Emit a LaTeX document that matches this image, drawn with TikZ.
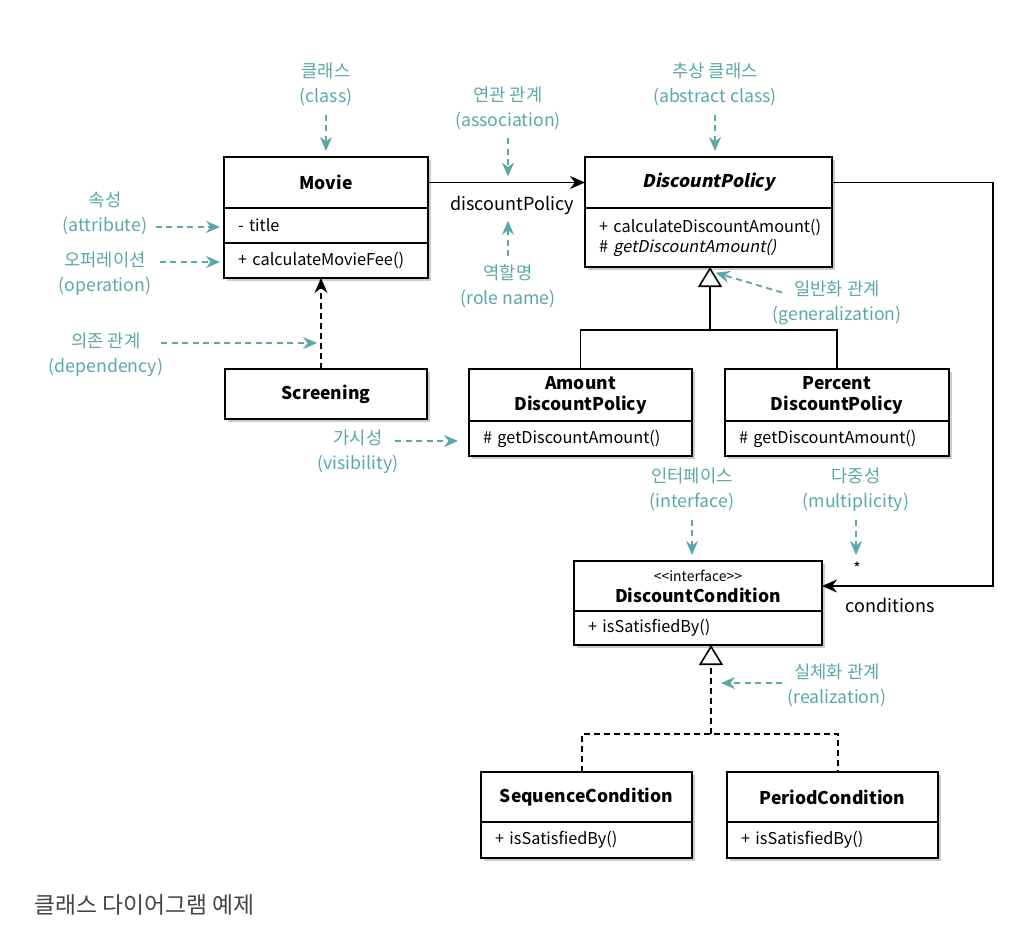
\documentclass[tikz,border=0pt]{standalone}
\usepackage{fontspec}
\setmainfont{Noto Sans CJK KR}[AutoFakeSlant=0.2]
\newfontfamily\slantfont{Noto Sans CJK KR}[FakeSlant=0.2]
\usetikzlibrary{arrows.meta,shadows}
\definecolor{noteteal}{RGB}{91,168,170}
\definecolor{capgray}{RGB}{68,68,68}

\tikzset{
  umlbox/.style={draw=black, line width=1.3pt, fill=white, outer sep=0pt,
    inner xsep=14pt, inner ysep=2pt, text width=#1,
    execute at begin node={\hyphenpenalty=10000\relax},
    drop shadow={shadow xshift=2.5pt, shadow yshift=-2.5pt, opacity=0.4}},
  headbox/.style={umlbox=#1, align=center, font=\fontsize{17.5}{21}\selectfont\bfseries},
  rowbox/.style={umlbox=#1, align=left, font=\fontsize{16.3}{20}\selectfont},
  rolename/.style={font=\fontsize{18}{22}\selectfont},
  note/.style={text=noteteal, align=center, font=\fontsize{17.7}{25}\selectfont},
  notearrow/.style={noteteal, line width=1.8pt, dash pattern=on 6pt off 4.5pt,
    -{Stealth[length=14pt,width=12pt]}, shorten <=5pt, shorten >=6pt},
  link/.style={line width=1.6pt},
  dashlink/.style={link, dash pattern=on 6pt off 4pt},
  assoc/.style={link, -{Stealth[length=15pt,width=13pt]}},
  depend/.style={dashlink, -{Stealth[length=15pt,width=13pt]}},
  inherit/.style={link, -{Triangle[open,length=20pt,width=24pt]}},
  realize/.style={dashlink, -{Triangle[open,length=20pt,width=24pt]}},
}

\begin{document}
\begin{tikzpicture}[x=1pt, y=-1pt]
  \path[use as bounding box, fill=white] (0,0) rectangle (1032,931);

  % classes
  \node[headbox=176pt, minimum height=51pt] (movie) at (326,182.5) {Movie};
  \node[rowbox=176pt, minimum height=35pt, anchor=north] (movieattr) at (movie.south) {-~title};
  \node[rowbox=176pt, minimum height=35pt, anchor=north] (movieop) at (movieattr.south) {+~calculateMovieFee()};

  \node[headbox=174pt, minimum height=50pt] (screening) at (326,394) {Screening};

  \node[headbox=219pt, minimum height=51pt] (policy) at (708.5,182.5) {\slantfont\bfseries DiscountPolicy};
  \node[rowbox=219pt, minimum height=59pt, anchor=north] (policyops) at (policy.south)
    {+~calculateDiscountAmount()\\\#~\textit{getDiscountAmount()}};

  \node[headbox=195pt, minimum height=52pt] (amount) at (580.5,395) {Amount\\DiscountPolicy};
  \node[rowbox=195pt, minimum height=35pt, anchor=north] (amountops) at (amount.south) {\#~getDiscountAmount()};

  \node[headbox=196pt, minimum height=52pt] (percent) at (837,395) {Percent\\DiscountPolicy};
  \node[rowbox=196pt, minimum height=35pt, anchor=north] (percentops) at (percent.south) {\#~getDiscountAmount()};

  \node[headbox=220pt, minimum height=50pt] (cond) at (698,586)
    {{\fontsize{14}{16}\selectfont\mdseries \mbox{<}\mbox{<}interface\mbox{>}\mbox{>}}\\DiscountCondition};
  \node[rowbox=220pt, minimum height=34pt, anchor=north] (condops) at (cond.south) {+~isSatisfiedBy()};

  \node[headbox=183pt, minimum height=50pt] (seq) at (586.5,797) {SequenceCondition};
  \node[rowbox=183pt, minimum height=36pt, anchor=north] (seqops) at (seq.south) {+~isSatisfiedBy()};

  \node[headbox=183pt, minimum height=50pt] (period) at (832.5,797) {PeriodCondition};
  \node[rowbox=183pt, minimum height=36pt, anchor=north] (periodops) at (period.south) {+~isSatisfiedBy()};

  % relations
  \draw[assoc] (movie.east) -- (policy.west);
  \node[rolename] (rolelabel) at (512,205) {discountPolicy};
  \draw[depend] ([xshift=-5pt]screening.north) -- ([xshift=-5pt]movieop.south);

  \coordinate (genjoin) at (710,330);
  \draw[link] (amount.north) |- (genjoin) -| (percent.north);
  \draw[inherit] (genjoin) -- (genjoin |- policyops.south);

  \draw[assoc] (policy.east) -| ([xshift=171pt]cond.east) -- (cond.east);
  \node[font=\fontsize{16}{16}\selectfont] (multstar) at (857,568) {*};
  \node[rolename] (condlabel) at (890,605) {conditions};

  \coordinate (realjoin) at (711,734);
  \coordinate (realleft) at (582,734);
  \coordinate (realright) at (838,734);
  \draw[realize] (realjoin) -- (realjoin |- condops.south);
  \draw[dashlink] (seq.north -| realleft) -- (realleft) -- (realright) -- (period.north -| realright);

  % notes
  \node[note] (classnote) at (326,84.5) {클래스\\(class)};
  \node[note] (assocnote) at (508,108) {연관 관계\\(association)};
  \node[note] (absnote) at (715,84.5) {추상 클래스\\(abstract class)};
  \node[note] (rolenote) at (508,286.5) {역할명\\(role name)};
  \node[note] (attrnote) at (105,213) {속성\\(attribute)};
  \node[note] (opnote) at (105,274) {오퍼레이션\\(operation)};
  \node[note] (depnote) at (106,355) {의존 관계\\(dependency)};
  \node[note] (visnote) at (358,452) {가시성\\(visibility)};
  \node[note] (gennote) at (837,302.5) {일반화 관계\\(generalization)};
  \node[note] (intnote) at (692,489.5) {인터페이스\\(interface)};
  \node[note] (multnote) at (856,490) {다중성\\(multiplicity)};
  \node[note] (realnote) at (837,685) {실체화 관계\\(realization)};

  \draw[notearrow] (classnote) -- (movie);
  \draw[notearrow] (assocnote.south) -- (assocnote.south |- movie.east);
  \draw[notearrow] (absnote.south) -- (absnote.south |- policy.north);
  \draw[notearrow, shorten >=3pt] (rolenote.north) -- (rolenote.north |- rolelabel.south);
  \draw[notearrow, shorten >=4pt] ([yshift=-1.5pt]attrnote.east |- movieattr.west) -- ([yshift=-1.5pt]movieattr.west);
  \draw[notearrow, shorten >=4pt] ([yshift=-1.5pt]opnote.east |- movieop.west) -- ([yshift=-1.5pt]movieop.west);
  \coordinate (depstart) at ([xshift=55pt,yshift=12pt]depnote.center);
  \draw[notearrow, shorten <=0pt, shorten >=9pt] (depstart) -- (depstart -| screening.north);
  \coordinate (visstart) at ([xshift=37pt,yshift=11pt]visnote.center);
  \draw[notearrow, shorten <=0pt, shorten >=11pt] (visstart) -- (visstart -| amountops.west);
  \coordinate (genstart) at ([xshift=-55pt,yshift=10pt]gennote.center);
  \coordinate (gentarget) at ([yshift=-4pt]genjoin |- policyops.south);
  \draw[notearrow, shorten <=0pt] (genstart) -- (gentarget);
  \coordinate (realstart) at ([xshift=-55pt,yshift=2pt]realnote.center);
  \draw[notearrow, shorten <=0pt, shorten >=10pt] (realstart) -- (realstart -| realjoin);
  \draw[notearrow] (intnote.south) -- (intnote.south |- cond.north);
  \draw[notearrow, shorten >=3pt] (multnote.south) -- (multnote.south |- multstar.north);

  % caption
  \node[anchor=west, text=capgray, font=\fontsize{22.8}{23}\selectfont] (caption) at (31,905)
    {클래스 다이어그램 예제};
\end{tikzpicture}
\end{document}
